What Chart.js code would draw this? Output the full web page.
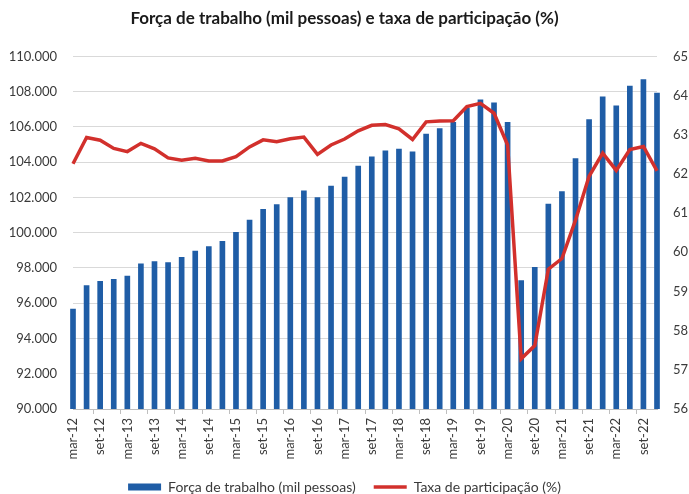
<!DOCTYPE html>
<html><head><meta charset="utf-8">
<script src="https://cdn.jsdelivr.net/npm/chart.js@4/dist/chart.umd.min.js"></script>
<style>html,body{margin:0;padding:0;background:#fff;overflow:hidden}</style>
</head><body>
<canvas id="c" width="689" height="494"></canvas>
<script>
const categories = [
  'mar-12','jun-12','set-12','dez-12','mar-13','jun-13','set-13','dez-13',
  'mar-14','jun-14','set-14','dez-14','mar-15','jun-15','set-15','dez-15',
  'mar-16','jun-16','set-16','dez-16','mar-17','jun-17','set-17','dez-17',
  'mar-18','jun-18','set-18','dez-18','mar-19','jun-19','set-19','dez-19',
  'mar-20','jun-20','set-20','dez-20','mar-21','jun-21','set-21','dez-21',
  'mar-22','jun-22','set-22','dez-22'
];
const forcaTrabalho = [
  95670, 97000, 97240, 97350, 97540, 98240, 98360, 98300, 98600, 98960,
  99210, 99510, 100020, 100720, 101320, 101590, 101990, 102380, 101990, 102650,
  103160, 103780, 104310, 104650, 104750, 104590, 105600, 105900, 106260, 107070,
  107530, 107370, 106260, 97290, 98030, 101630, 102330, 104210, 106410, 107710,
  107200, 108320, 108680, 107920
];
const taxaParticipacao = [
  62.26, 62.93, 62.86, 62.65, 62.57, 62.78, 62.64, 62.41, 62.35, 62.40,
  62.33, 62.33, 62.44, 62.69, 62.87, 62.82, 62.90, 62.94, 62.50, 62.74,
  62.89, 63.10, 63.24, 63.26, 63.15, 62.88, 63.33, 63.35, 63.36, 63.72,
  63.80, 63.55, 62.74, 57.28, 57.62, 59.57, 59.84, 60.82, 61.94, 62.53,
  62.09, 62.62, 62.70, 62.08
];
const seriesNames = ['Força de trabalho (mil pessoas)', 'Taxa de participação (%)'];
const chartTitle = 'Força de trabalho (mil pessoas) e taxa de participação (%)';

const FONT = 'Lato';
const TXT = '#3a3a3a';
function fmtThousands(v) {
  return String(Math.round(v)).replace(/\B(?=(\d{3})+(?!\d))/g, '.');
}

new Chart(document.getElementById('c'), {
  data: {
    labels: categories,
    datasets: [
      {
        type: 'bar', label: seriesNames[0], data: forcaTrabalho,
        backgroundColor: '#1F5DA6', borderWidth: 0, barThickness: 5,
        yAxisID: 'y', order: 1, clip: { left: 6, right: 6, top: 0, bottom: 0 }
      },
      {
        type: 'line', label: seriesNames[1], data: taxaParticipacao,
        borderColor: '#D2302C', backgroundColor: '#D2302C', borderWidth: 3.5,
        pointRadius: 0, tension: 0, yAxisID: 'y1', order: 0, clip: 6
      }
    ]
  },
  options: {
    responsive: false, animation: false, devicePixelRatio: 1,
    layout: { padding: { left: 0, right: 0, top: 0, bottom: -10 } },
    plugins: {
      title: {
        display: true, text: chartTitle, color: '#1a1a1a',
        font: { family: FONT, size: 17, weight: 'bold' },
        padding: { top: 8, bottom: 28 }
      },
      legend: {
        position: 'bottom',
        labels: {
          font: { family: FONT, size: 14 }, color: TXT,
          usePointStyle: true, pointStyleWidth: 33, boxHeight: 7, padding: 18,
          generateLabels(chart) {
            const items = Chart.defaults.plugins.legend.labels.generateLabels(chart);
            items.sort((a, b) => a.datasetIndex - b.datasetIndex);
            items.forEach(it => {
              if (it.datasetIndex === 0) { it.pointStyle = 'rect'; it.lineWidth = 0; }
              else { it.pointStyle = 'line'; it.lineWidth = 3.5; it.strokeStyle = '#D2302C'; }
            });
            return items;
          }
        }
      },
      tooltip: { enabled: false }
    },
    scales: {
      x: {
        offset: false,
        grid: {
          display: true, drawOnChartArea: false, drawTicks: true, tickLength: 5,
          color: ctx => (ctx.index % 2 === 0 ? '#BFBFBF' : 'rgba(0,0,0,0)')
        },
        border: { display: true, color: '#BFBFBF' },
        ticks: {
          autoSkip: false, maxRotation: 90, minRotation: 90, padding: 4,
          font: { family: FONT, size: 13 }, color: TXT,
          callback: (v, i) => (i % 2 === 0 ? categories[i] : '')
        },
        afterFit(s) { s.height = 53; }
      },
      y: {
        position: 'left', min: 90000, max: 110000,
        ticks: { stepSize: 2000, padding: 16, font: { family: FONT, size: 13 }, color: TXT, callback: v => fmtThousands(v) },
        grid: { color: '#D9D9D9', drawTicks: false },
        border: { display: false },
        afterFit(s) { s.width = 73; }
      },
      y1: {
        position: 'right', min: 56, max: 65,
        ticks: { stepSize: 1, padding: 16, font: { family: FONT, size: 13 }, color: TXT },
        grid: { display: false, drawTicks: false },
        border: { display: false },
        afterFit(s) { s.width = 32; }
      }
    }
  }
});
</script>
</body></html>
